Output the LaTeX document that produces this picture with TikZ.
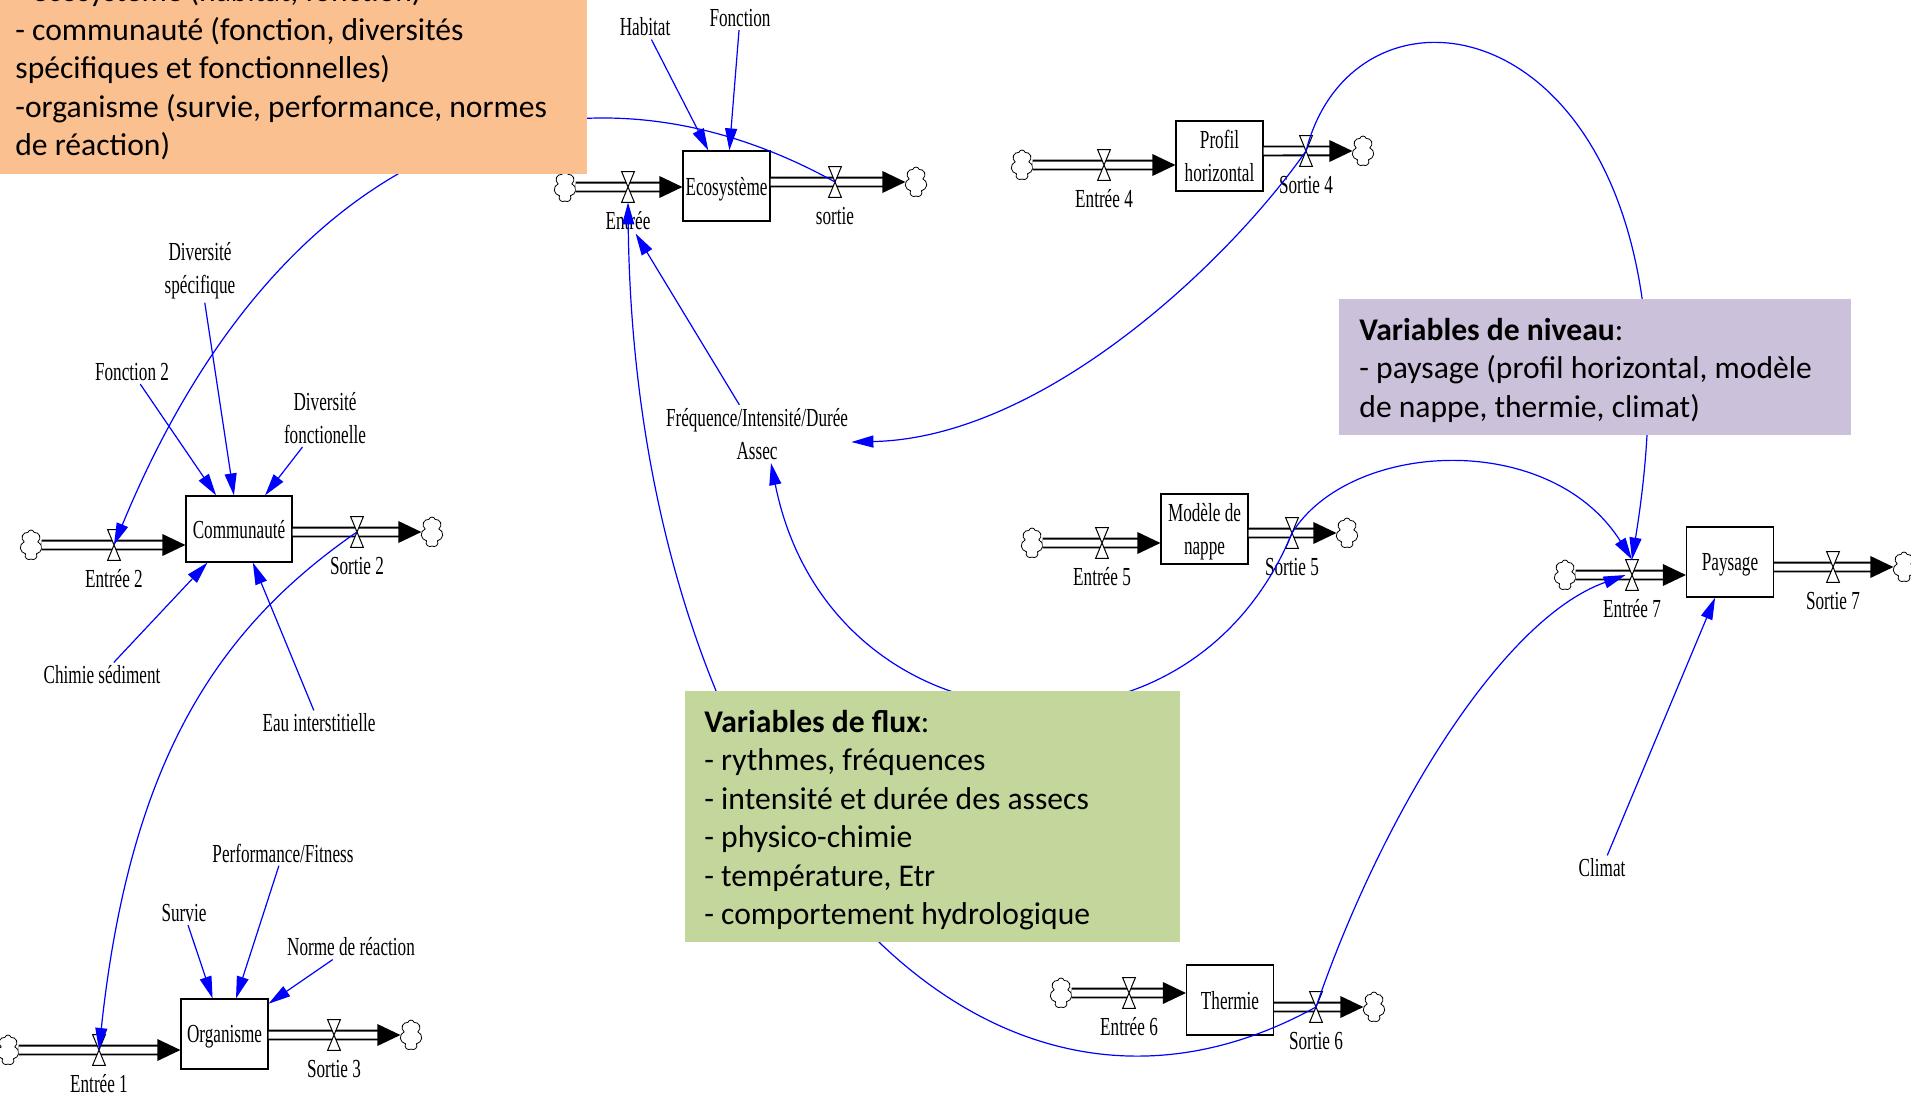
\documentclass[tikz,border=0pt]{standalone}
\usepackage{fontspec}
\setmainfont{Carlito}
\newfontfamily\vensimfont[FakeStretch=0.66]{Liberation Serif}
\usetikzlibrary{positioning,shapes.symbols,arrows.meta}

\definecolor{etatorange}{RGB}{250,192,143}
\definecolor{niveaumauve}{RGB}{204,193,218}
\definecolor{fluxvert}{RGB}{195,214,155}

\tikzset{
  stock/.style={draw, fill=white, line width=0.6pt, minimum width=43.5pt, minimum height=35pt, inner sep=1pt, text depth=0pt, align=center, font=\vensimfont\fontsize{13}{16.5}\selectfont},
  var/.style={align=center, inner sep=1.5pt, font=\vensimfont\fontsize{13}{16.5}\selectfont},
  source/.style={cloud, cloud puffs=7, cloud puff arc=150, aspect=0.7, draw, line width=0.4pt, inner sep=0pt, minimum width=11pt, minimum height=15pt},
  valve/.style={inner sep=0pt, minimum width=6pt, minimum height=15pt},
  pipeline/.style={draw, line width=0.9pt, double=white, double distance=3.5pt, shorten >=11pt},
  link/.style={draw=blue, line width=0.6pt, -{Triangle[length=11pt,width=6pt]}},
  note/.style={anchor=west, align=left, inner sep=0pt, font=\fontsize{15.8}{19.25}\selectfont},
}

\newcommand\pipe[2]{%
  \draw[pipeline] (#1) -- (#2);
  \fill (#2) -- ++(-23,-11) -- ++(0,22) -- cycle;}
\newcommand\valve[2]{%
  \node[valve] (#1) at (#2) {};
  \draw[fill=white, line width=0.5pt] (#1.north west) -- (#1.north east) -- (#1.south west) -- (#1.south east) -- cycle;}

\begin{document}
\begin{tikzpicture}[x=0.5pt,y=-0.5pt]
\useasboundingbox (0,0) rectangle (1911,1097);
\clip (0,0) rectangle (1911,1097);

\node[stock] (eco) at (726.5,186) {Ecosystème};
\node[source] (cEin) at (565,187) {};
\node[source] (cEout) at (916,182) {};
\pipe{cEin}{eco.west |- cEin}
\pipe{eco.east |- cEout}{cEout.west}
\valve{vEin}{628,187}
\valve{vEout}{835,182}
\node[var, below=3pt of vEin] (lEin) {Entrée};
\node[var, below=3pt of vEout] (lEout) {sortie};
\node[var] (habitat) at (645,27) {Habitat};
\node[var] (fonction) at (740,18) {Fonction};

\node[stock, minimum width=53pt, minimum height=33pt] (comm) at (239,529) {Communauté};
\node[source] (cCin) at (31,545) {};
\node[source] (cCout) at (432,532) {};
\pipe{cCin}{comm.west |- cCin}
\pipe{comm.east |- cCout}{cCout.west}
\valve{vCin}{114,545}
\valve{vCout}{357,532}
\node[var, below=3pt of vCin] (lCin) {Entrée 2};
\node[var, below=3pt of vCout] (lCout) {Sortie 2};
\node[var] (divspe) at (200,271) {Diversité\\spécifique};
\node[var] (fonction2) at (132,372) {Fonction 2};
\node[var] (divfonc) at (325,418) {Diversité\\fonctionelle};
\node[var] (chimie) at (102,675) {Chimie sédiment};
\node[var] (eau) at (319,723) {Eau interstitielle};

\node[stock] (org) at (224.5,1034) {Organisme};
\node[source] (cOin) at (8,1050) {};
\node[source] (cOout) at (411,1035) {};
\pipe{cOin}{org.west |- cOin}
\pipe{org.east |- cOout}{cOout.west}
\valve{vOin}{99,1050}
\valve{vOout}{334,1035}
\node[var, below=3pt of vOin] (lOin) {Entrée 1};
\node[var, below=3pt of vOout] (lOout) {Sortie 3};
\node[var] (perf) at (283,853) {Performance/Fitness};
\node[var] (survie) at (184,913) {Survie};
\node[var] (norme) at (351,947) {Norme de réaction};

\node[stock] (profil) at (1219.5,156) {Profil\\horizontal};
\node[source] (cPin) at (1022,165) {};
\node[source] (cPout) at (1363,151) {};
\pipe{cPin}{profil.west |- cPin}
\pipe{profil.east |- cPout}{cPout.west}
\valve{vPin}{1104,165}
\valve{vPout}{1306,151}
\node[var, below=3pt of vPin] (lPin) {Entrée 4};
\node[var, below=3pt of vPout] (lPout) {Sortie 4};

\node[stock] (nappe) at (1204.5,529) {Modèle de\\nappe};
\node[source] (cNin) at (1032,543) {};
\node[source] (cNout) at (1347,533) {};
\pipe{cNin}{nappe.west |- cNin}
\pipe{nappe.east |- cNout}{cNout.west}
\valve{vNin}{1102,543}
\valve{vNout}{1292,533}
\node[var, below=3pt of vNin] (lNin) {Entrée 5};
\node[var, below=3pt of vNout] (lNout) {Sortie 5};

\node[stock] (paysage) at (1730,562) {Paysage};
\node[source] (cYin) at (1565,575) {};
\node[source] (cYout) at (1904,567) {};
\pipe{cYin}{paysage.west |- cYin}
\pipe{paysage.east |- cYout}{cYout.west}
\valve{vYin}{1632,575}
\valve{vYout}{1833,567}
\node[var, below=3pt of vYin] (lYin) {Entrée 7};
\node[var, below=3pt of vYout] (lYout) {Sortie 7};
\node[var] (climat) at (1602,868) {Climat};

\node[stock] (thermie) at (1230,1000) {Thermie};
\node[source] (cTin) at (1061,993) {};
\node[source] (cTout) at (1374,1007) {};
\pipe{cTin}{thermie.west |- cTin}
\pipe{thermie.east |- cTout}{cTout.west}
\valve{vTin}{1129,993}
\valve{vTout}{1316,1007}
\node[var, below=3pt of vTin] (lTin) {Entrée 6};
\node[var, below=3pt of vTout] (lTout) {Sortie 6};

\node[var] (freq) at (757,434) {Fréquence/Intensité/Durée\\Assec};

\draw[link] (habitat) -- (eco);
\draw[link] (fonction) -- (eco);
\draw[link] (divspe) -- (comm);
\draw[link] (fonction2) -- (comm);
\draw[link] (divfonc) -- (comm);
\draw[link] (chimie) -- (comm);
\draw[link] (eau) -- (comm);
\draw[link] (survie) -- (org);
\draw[link] (perf) -- (org);
\draw[link] (norme) -- (org);
\draw[link] (climat) -- (paysage);
\draw[link] (freq) -- (lEin);

\draw[link] (vEout.center) .. controls +(-262,-145) and +(170,-412) .. (vCin.center);
\draw[link] (vCout.center) .. controls +(-139,96) and +(31,-290) .. (vOin.center);
\draw[link] (vPout.center) .. controls +(-76,109) and +(193,-4) .. ([yshift=-4pt]freq.east);
\draw[link] (vPout.center) .. controls +(54,-211) and +(88,-540) .. (vYin.north);
\draw[link] (vNout.center) .. controls +(58,-93) and +(-82,-130) .. (vYin.north);
\draw[link] (vNout.center) .. controls +(-105,255) and +(58,290) .. ([xshift=7pt]freq.south);
\draw[link] (vTout.center) .. controls +(-350,193) and +(6,598) .. (vEin.south);
\draw[link] (vTout.center) .. controls +(64,-187) and +(-126,45) .. (vYin.west);

\fill[etatorange] (0,-41) rectangle (587,174);
\node[note] (etat) at (15,69.6) {- écosystème (habitat, fonction)\\- communauté (fonction, diversités\\spécifiques et fonctionnelles)\\-organisme (survie, performance, normes\\de réaction)};
\fill[niveaumauve] (1339,299) rectangle (1851,435);
\node[note] (niveau) at (1359,370) {\textbf{Variables de niveau}:\\- paysage (profil horizontal, modèle\\de nappe, thermie, climat)};
\fill[fluxvert] (685,691) rectangle (1180,942);
\node[note] (flux) at (704,820) {\textbf{Variables de flux}:\\- rythmes, fréquences\\- intensité et durée des assecs\\- physico-chimie\\- température, Etr\\- comportement hydrologique};
\end{tikzpicture}
\end{document}
